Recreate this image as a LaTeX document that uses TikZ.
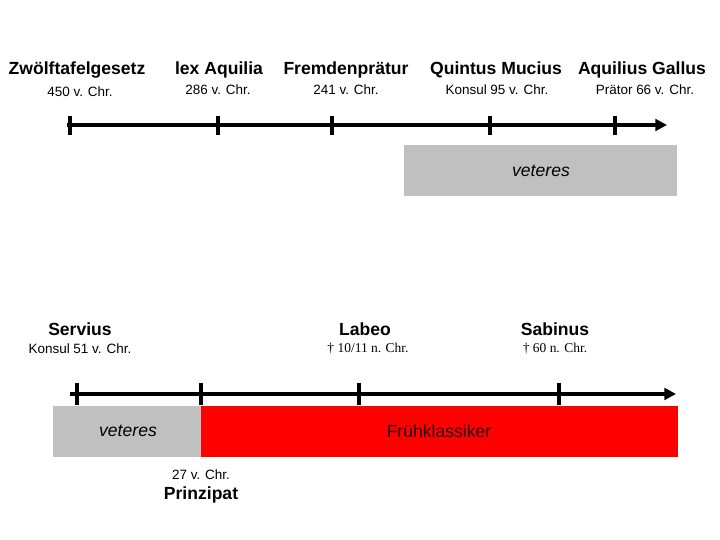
\documentclass[tikz,border=0pt]{standalone}
\usepackage{fontspec}
\setmainfont{Liberation Sans}
\newfontfamily\timesfont{Liberation Serif}
\usepackage{tikz}
\usetikzlibrary{positioning,arrows.meta}
\definecolor{vetgrey}{HTML}{C0C0C0}
\definecolor{klassred}{HTML}{FF0000}
\tikzset{
  evt/.style={font=\fontsize{15}{18}\bfseries\selectfont, inner sep=0pt},
  dat/.style={font=\fontsize{11.5}{14}\selectfont, inner sep=0pt},
  datt/.style={font=\fontsize{11.5}{14}\timesfont\selectfont, inner sep=0pt},
  axis/.style={-{Triangle[length=10pt,width=10pt]}, line width=3.9pt},
  tck/.style={line width=3.6pt},
  era/.style={rectangle, fill=#1, draw=none, inner sep=0pt},
  eralbl/.style={font=\fontsize{15}{18}\selectfont, inner sep=0pt},
}

\begin{document}
\begin{tikzpicture}[x=0.03cm, y=-0.03cm]
  \useasboundingbox (0,0) rectangle (720,540);

  % upper timeline
  \node[evt] (zwoelf) at (77,70)  {Zwölftafelgesetz};
  \node[evt] (aquil)  at (219,70) {lex Aquilia};
  \node[evt] (fremd)  at (346,70) {Fremdenprätur};
  \node[evt] (mucius) at (496,70) {Quintus Mucius};
  \node[evt] (gallus) at (642,70) {Aquilius Gallus};
  \node[dat] (d450) at (80,92)  {450 v. Chr.};
  \node[dat] (d286) at (218,90) {286 v. Chr.};
  \node[dat] (d241) at (346,90) {241 v. Chr.};
  \node[dat] (d95)  at (497,90) {Konsul 95 v. Chr.};
  \node[dat] (d66)  at (645,90) {Prätor 66 v. Chr.};

  \coordinate (t1s) at (67,125);
  \coordinate (t1e) at (667,125);
  \draw[axis] (t1s) -- (t1e);
  \foreach \x in {70,218,332,490,615}
    \draw[tck] (\x,116) -- (\x,135);

  \node[era=vetgrey, minimum width=273*0.03cm, minimum height=51*0.03cm] (vet1) at (540.5,170.5) {};
  \node[eralbl, font=\fontsize{15}{18}\itshape\selectfont] (vet1lbl) at (541,171) {veteres};

  % lower timeline
  \node[evt] (servius) at (80,329)  {Servius};
  \node[evt] (labeo)   at (365,329) {Labeo};
  \node[evt] (sabinus) at (555,329) {Sabinus};
  \node[dat]  (d51) at (80,349)  {Konsul 51 v. Chr.};
  \node[datt] (d10) at (368,349) {† 10/11 n. Chr.};
  \node[datt] (d60) at (555,349) {† 60 n. Chr.};

  \coordinate (t2s) at (70,394);
  \coordinate (t2e) at (676,394);
  \draw[axis] (t2s) -- (t2e);
  \foreach \x in {77,201,359,559}
    \draw[tck] (\x,383) -- (\x,405);

  \node[era=vetgrey, minimum width=148*0.03cm, minimum height=51*0.03cm] (vet2) at (127,431.5) {};
  \node[era=klassred, minimum width=477*0.03cm, minimum height=51*0.03cm] (frueh) at (439.5,431.5) {};
  \node[eralbl, font=\fontsize{15}{18}\itshape\selectfont] (vet2lbl) at (128,431) {veteres};
  \node[eralbl, text=black!85!red] (fruehlbl) at (439,431) {Frühklassiker};

  \node[dat] (d27)   at (201,475) {27 v. Chr.};
  \node[evt] (prinz) at (201,495) {Prinzipat};
\end{tikzpicture}
\end{document}
